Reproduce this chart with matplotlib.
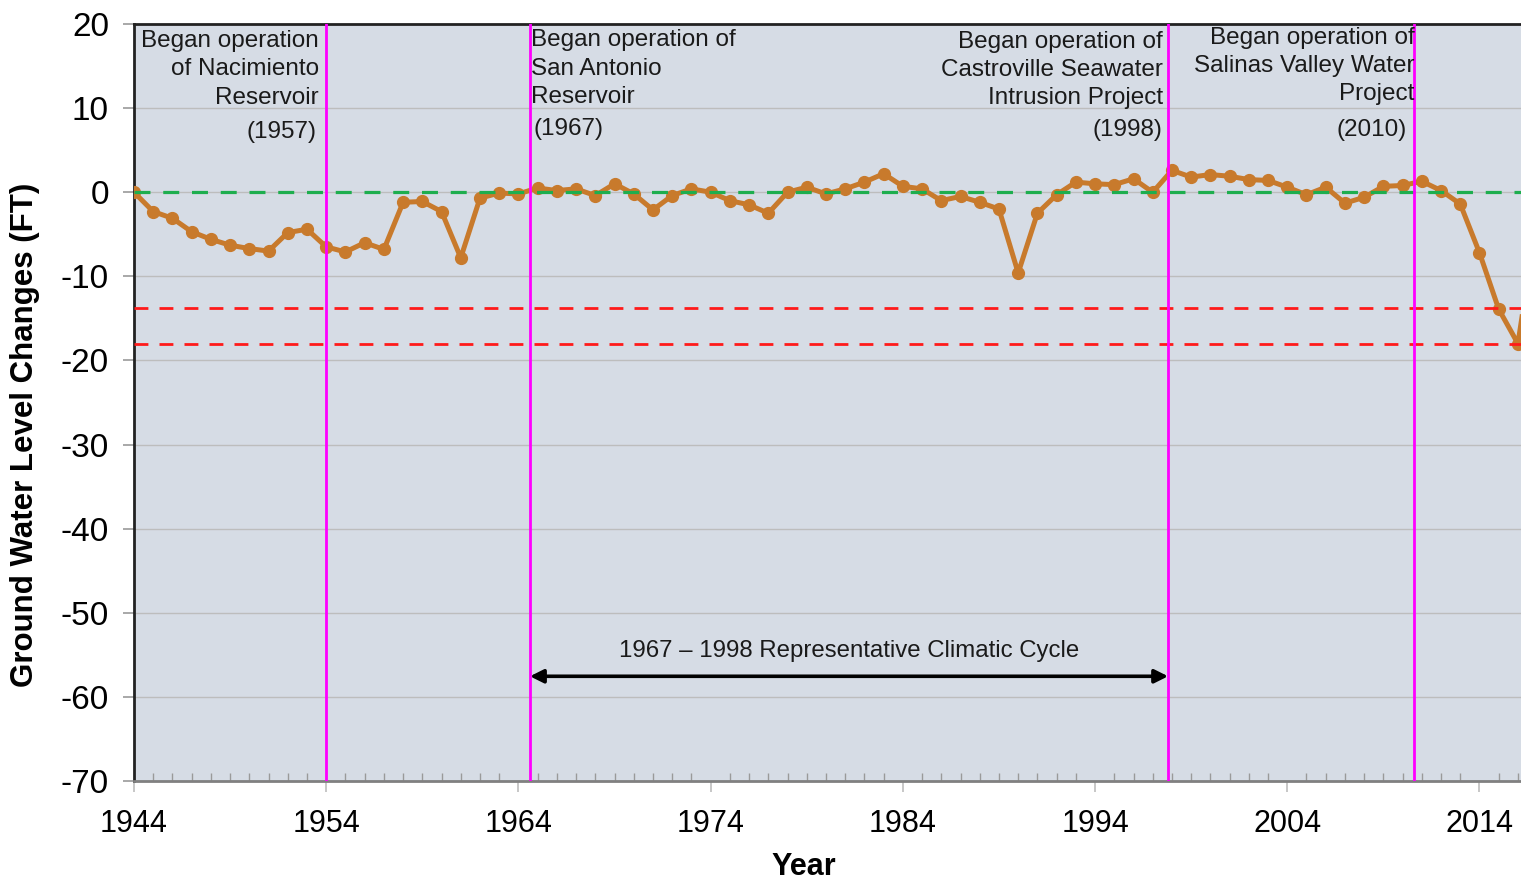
import numpy as np
import matplotlib
matplotlib.use("Agg")
import matplotlib.pyplot as plt
from matplotlib.ticker import MultipleLocator

plt.rcParams["font.family"] = ["Liberation Sans", "DejaVu Sans"]
plt.rcParams["axes.unicode_minus"] = False

years = np.arange(1944, 2018)
level_change = [
    0.0, -2.3, -3.1, -4.7, -5.6, -6.3, -6.7, -7.0, -4.8, -4.4,   # 1944-1953
    -6.5, -7.1, -6.0, -6.8, -1.2, -1.1, -2.3, -7.8, -0.7, -0.1,  # 1954-1963
    -0.2, 0.5, 0.2, 0.4, -0.4, 1.0, -0.2, -2.1, -0.4, 0.4,       # 1964-1973
    0.0, -1.0, -1.5, -2.5, 0.0, 0.6, -0.2, 0.4, 1.2, 2.2,        # 1974-1983
    0.7, 0.4, -1.0, -0.5, -1.2, -2.0, -9.6, -2.5, -0.3, 1.2,     # 1984-1993
    1.0, 0.9, 1.6, 0.0, 2.6, 1.8, 2.1, 1.9, 1.5, 1.4,            # 1994-2003
    0.6, -0.3, 0.6, -1.3, -0.6, 0.7, 0.8, 1.3, 0.2, -1.4,        # 2004-2013
    -7.2, -13.9, -18.0, -3.0,                                    # 2014-2017
]

ref_levels = [-13.8, -18.1]
event_x = [1954.0, 1964.6, 1997.8, 2010.6]
event_text = [
    "Began operation\nof Nacimiento\nReservoir",
    "Began operation of\nSan Antonio\nReservoir",
    "Began operation of\nCastroville Seawater\nIntrusion Project",
    "Began operation of\nSalinas Valley Water\nProject",
]
event_year = ["(1957)", "(1967)", "(1998)", "(2010)"]
cycle_label = "1967 \u2013 1998 Representative Climatic Cycle"

fig = plt.figure(figsize=(15.21, 8.84), dpi=100)
ax = fig.add_axes([134 / 1521, 1 - 781 / 884, 1 - 134 / 1521, (781 - 24) / 884])
ax.set_facecolor("#D6DCE5")

ax.set_xlim(1944, 2016.16)
ax.set_ylim(-70, 20)
ax.yaxis.set_major_locator(MultipleLocator(10))
ax.set_xticks(np.arange(1944, 2017, 10))
ax.xaxis.set_minor_locator(MultipleLocator(1))
ax.grid(axis="y", color="#BDBDBD", linewidth=1.0, zorder=0)
ax.set_axisbelow(True)

ax.plot(years, level_change, color="#C87A2C", linewidth=3.6, marker="o",
        markersize=8.5, zorder=3)

ax.axhline(0, color="#1EAE4E", linewidth=2.3, dashes=(5, 4), zorder=4)
for lv in ref_levels:
    ax.axhline(lv, color="#FF1A1A", linewidth=2.0, dashes=(5, 4), zorder=4)

for x in event_x:
    ax.axvline(x, color="#FF00FF", linewidth=2.0, zorder=5)

# annotation texts: left one and the two right ones are right aligned
txt_kw = dict(fontsize=17.5, color="#1a1a1a", linespacing=1.36, zorder=6)
ax.text(1953.63, 14.6, event_text[0], ha="right", va="center", **txt_kw)
ax.text(1953.47, 7.2, event_year[0], ha="right", va="center", **txt_kw)
ax.text(1964.66, 14.7, event_text[1], ha="left", va="center", **txt_kw)
ax.text(1964.81, 7.5, event_year[1], ha="left", va="center", **txt_kw)
ax.text(1997.54, 14.5, event_text[2], ha="right", va="center", **txt_kw)
ax.text(1997.49, 7.4, event_year[2], ha="right", va="center", **txt_kw)
ax.text(2010.62, 15.0, event_text[3], ha="right", va="center", **txt_kw)
ax.text(2010.23, 7.4, event_year[3], ha="right", va="center", **txt_kw)

ax.annotate("", xy=(event_x[2], -57.55), xytext=(event_x[1], -57.55),
            arrowprops=dict(arrowstyle="<|-|>", color="black", lw=2.6,
                            mutation_scale=20, shrinkA=0, shrinkB=0), zorder=6)
ax.text((event_x[1] + event_x[2]) / 2, -54.5, cycle_label, ha="center",
        va="center", fontsize=17.3, color="#1a1a1a")

for side in ["left", "top"]:
    ax.spines[side].set_color("#222222")
    ax.spines[side].set_linewidth(2.0)
ax.spines["bottom"].set_color("#808080")
ax.spines["bottom"].set_linewidth(2.0)
ax.spines["right"].set_visible(False)

ax.tick_params(axis="y", which="major", direction="out", length=8, width=1.2,
               color="#9a9a9a", labelsize=24, pad=10, labelcolor="black")
ax.tick_params(axis="x", which="major", direction="out", length=8, width=1.2,
               color="#bdbdbd", labelsize=22, pad=12, labelcolor="black")
ax.tick_params(axis="x", which="minor", direction="in", length=6, width=1.0,
               color="#9a9a9a")

ax.set_ylabel("Ground Water Level Changes (FT)", fontsize=22.5, fontweight="bold")
ax.yaxis.set_label_coords(-0.068, 0.457)
ax.set_xlabel("Year", fontsize=22, fontweight="bold")
ax.xaxis.set_label_coords(0.483, -0.094)

fig.savefig("out.png", dpi=100)
